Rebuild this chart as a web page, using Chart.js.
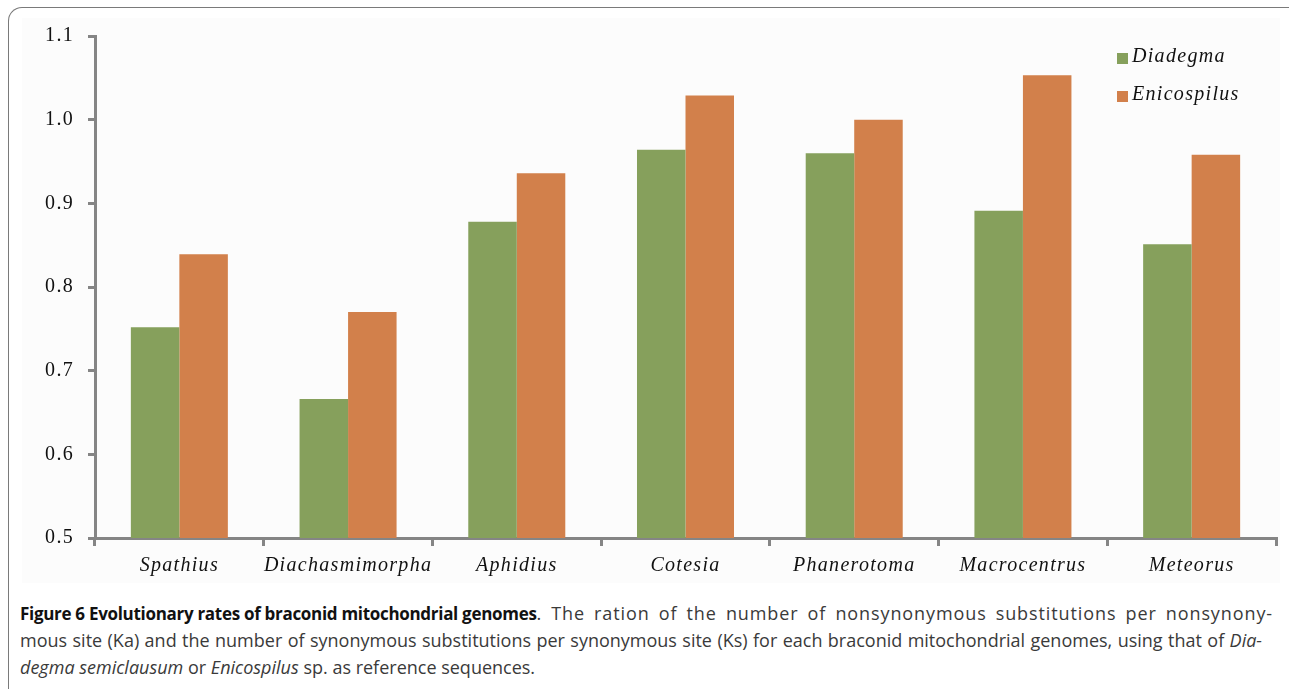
<!DOCTYPE html>
<html>
<head>
<meta charset="utf-8">
<script src="https://cdn.jsdelivr.net/npm/chart.js@4"></script>
<style>
  html, body { margin: 0; padding: 0; background: #fff; }
  body { width: 1289px; height: 689px; position: relative; overflow: hidden; }
  #frame {
    position: absolute; left: 8px; top: 7px; width: 1300px; height: 700px;
    border-left: 1.5px solid #7a7a7a; border-top: 1.5px solid #7a7a7a;
    border-top-left-radius: 14px;
  }
  #plotBg { position: absolute; left: 22px; top: 18px; width: 1258px; height: 565px; background: #fcfcfc; }
  #wrap { position: absolute; left: 0; top: 0; width: 1289px; height: 590px; }
  #legend { position: absolute; left: 1117px; top: 44px; font-family: "Liberation Serif", serif; font-style: italic; font-size: 20px; letter-spacing: 1.3px; color: #111; }
  #legend div { height: 38px; display: flex; align-items: flex-start; }
  #legend span.box { display: inline-block; width: 11px; height: 11px; margin-top: 9px; margin-right: 4px; }
  #caption {
    position: absolute; left: 20px; top: 600px;
    font-family: "Open Sans", "Noto Sans", sans-serif; font-size: 18px; line-height: 27px;
    color: #3a3a3a; white-space: nowrap;
  }
  #caption .j { text-align: justify; text-align-last: justify; white-space: normal; }
  #caption b { display: inline-block; color: #111; font-size: 17px; letter-spacing: -0.3px; }
  #caption .wide { letter-spacing: 0.9px; }
</style>
</head>
<body>
<div id="frame"></div>
<div id="plotBg"></div>
<div id="wrap"><canvas id="chart"></canvas></div>
<div id="legend"></div>
<div id="caption">
  <div class="j" style="width:1253px"><b>Figure 6 Evolutionary rates of braconid mitochondrial genomes</b><span class="wide">. The ration of the number of nonsynonymous substitutions per nonsynony-</span></div>
  <div class="j" style="width:1242px">mous site (Ka) and the number of synonymous substitutions per synonymous site (Ks) for each braconid mitochondrial genomes, using that of <i>Dia-</i></div>
  <div><i>degma semiclausum</i> or <i>Enicospilus</i> sp. as reference sequences.</div>
</div>
<script>
// Data
const genera = ['Spathius', 'Diachasmimorpha', 'Aphidius', 'Cotesia', 'Phanerotoma', 'Macrocentrus', 'Meteorus'];
const diadegma = [0.752, 0.666, 0.878, 0.964, 0.960, 0.891, 0.851];
const enicospilus = [0.839, 0.770, 0.936, 1.029, 1.000, 1.053, 0.958];
const seriesNames = ['Diadegma', 'Enicospilus'];
const seriesColors = ['#86a05c', '#d2804b'];
const yTicks = [0.5, 0.6, 0.7, 0.8, 0.9, 1.0, 1.1];

// Legend (html)
const legendEl = document.getElementById('legend');
seriesNames.forEach((name, i) => {
    const row = document.createElement('div');
    row.innerHTML = '<span class="box" style="background:' + seriesColors[i] + '"></span>' + name;
    legendEl.appendChild(row);
});

// wider letter spacing on the axis labels, like the original
const spacing = {
    id: 'spacing',
    beforeDraw: (chart) => { chart.ctx.letterSpacing = '1.3px'; }
};

const axisColor = '#858585';
const ctx = document.getElementById('chart').getContext('2d');
new Chart(ctx, {
    type: 'bar',
    data: {
        labels: genera,
        datasets: [
            { label: seriesNames[0], data: diadegma, backgroundColor: seriesColors[0] },
            { label: seriesNames[1], data: enicospilus, backgroundColor: seriesColors[1] }
        ]
    },
    plugins: [spacing],
    options: {
        responsive: true,
        maintainAspectRatio: false,
        animation: false,
        devicePixelRatio: 1,
        layout: { padding: { left: 0, top: 36, right: 13, bottom: 0 } },
        plugins: {
            legend: { display: false },
            tooltip: { enabled: false }
        },
        datasets: {
            bar: { categoryPercentage: 0.575, barPercentage: 1.0 }
        },
        scales: {
            x: {
                grid: { display: true, drawOnChartArea: false, drawTicks: true, tickLength: 8, color: axisColor, lineWidth: 3, offset: true },
                border: { display: true, color: axisColor, width: 3 },
                ticks: {
                    color: '#111',
                    padding: 8,
                    font: { family: 'Liberation Serif', style: 'italic', size: 20 }
                },
                afterFit: (scale) => { scale.height = 52; }
            },
            y: {
                min: 0.5,
                max: 1.1,
                afterBuildTicks: (scale) => { scale.ticks = yTicks.map(v => ({ value: v })); },
                grid: { display: true, drawOnChartArea: false, drawTicks: true, tickLength: 7, color: axisColor, lineWidth: 3 },
                border: { display: true, color: axisColor, width: 3 },
                ticks: {
                    color: '#111',
                    padding: 14,
                    font: { family: 'Liberation Serif', size: 20 },
                    callback: (v) => Number(v).toFixed(1)
                },
                afterFit: (scale) => { scale.width = 95; }
            }
        }
    }
});
</script>
</body>
</html>
